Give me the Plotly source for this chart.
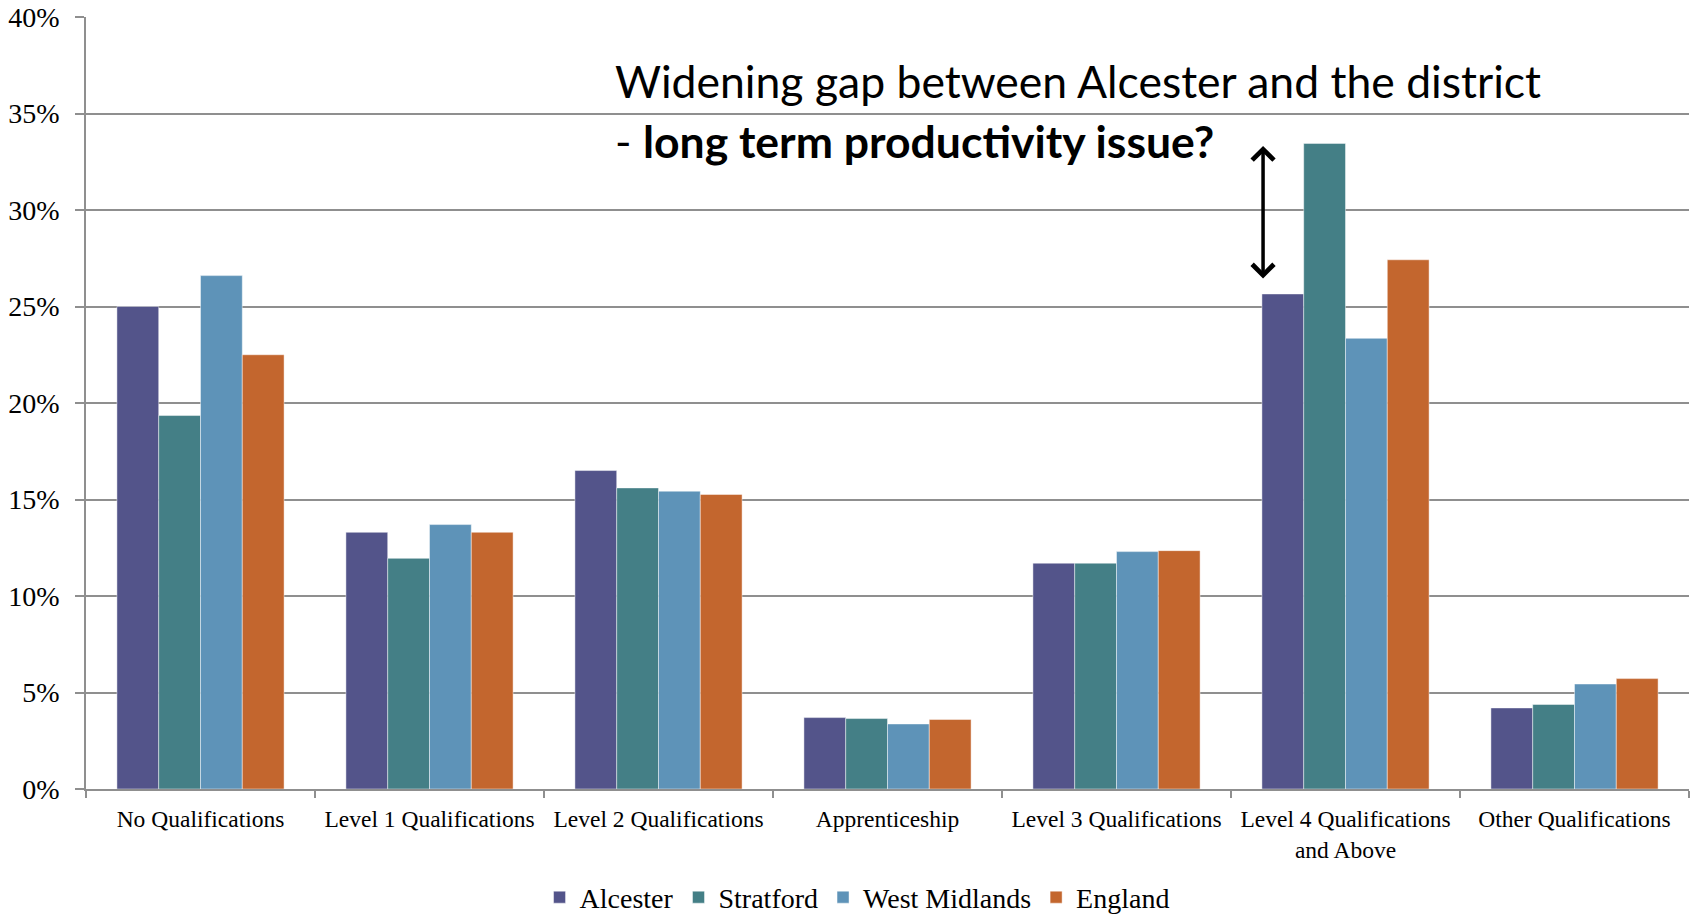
import plotly.graph_objects as go

categories = ["No Qualifications", "Level 1 Qualifications", "Level 2 Qualifications",
              "Apprenticeship", "Level 3 Qualifications",
              "Level 4 Qualifications<br>and Above", "Other Qualifications"]
alcester = [25.0, 13.3, 16.5, 3.7, 11.7, 25.65, 4.2]
stratford = [19.35, 11.95, 15.6, 3.65, 11.7, 33.45, 4.38]
west_midlands = [26.6, 13.7, 15.43, 3.37, 12.3, 23.35, 5.44]
england = [22.5, 13.3, 15.26, 3.6, 12.35, 27.42, 5.72]
y_ticks = [0, 5, 10, 15, 20, 25, 30, 35, 40]

series = [("Alcester", alcester, "#53548a"),
          ("Stratford", stratford, "#447f86"),
          ("West Midlands", west_midlands, "#5e93b8"),
          ("England", england, "#c3662e")]

fig = go.Figure()
for name, vals, col in series:
    fig.add_trace(go.Bar(name=name, x=categories, y=vals,
                         marker=dict(color=col, line=dict(color="rgba(255,255,255,0.45)", width=1))))

serif = "Liberation Serif"
grid = "#8f8f8f"
fig.update_layout(
    width=1698, height=914,
    margin=dict(l=86, r=9, t=17, b=124.5, autoexpand=False),
    paper_bgcolor="white", plot_bgcolor="white",
    barmode="group", bargap=0.27, bargroupgap=0,
    font=dict(family=serif, color="black"),
    showlegend=True,
    legend=dict(orientation="h", x=0.481, xanchor="center", y=-0.1405, yanchor="middle",
                font=dict(family=serif, size=28, color="black"), itemwidth=30,
                traceorder="normal"),
    xaxis=dict(showgrid=False, showline=True, linecolor=grid, linewidth=1.5, automargin=False,
               ticks="outside", tickson="boundaries", ticklen=7, tickcolor=grid, tickwidth=1.5,
               tickfont=dict(family=serif, size=23.5, color="black"), ticklabelstandoff=8),
    yaxis=dict(range=[0, 40], tickvals=y_ticks, ticktext=[f"{v}%" for v in y_ticks],
               showgrid=True, gridcolor=grid, gridwidth=1.5, automargin=False,
               showline=True, linecolor=grid, linewidth=1.5,
               ticks="outside", ticklen=9, tickcolor=grid, tickwidth=1.5,
               tickfont=dict(family=serif, size=28, color="black"), ticklabelstandoff=10,
               zeroline=False),
)

fig.add_annotation(xref="paper", yref="y", x=0.329, y=36.7, xanchor="left", yanchor="middle",
                   text="Widening gap between Alcester and the district", showarrow=False,
                   font=dict(family="Lato", size=44.5, color="black"))
fig.add_annotation(xref="paper", yref="y", x=0.329, y=33.6, xanchor="left", yanchor="middle",
                   text="- <b>long term productivity issue?</b>", showarrow=False,
                   font=dict(family="Lato", size=44.5, color="black"))
fig.add_annotation(xref="x", yref="y", axref="x", ayref="y", x=4.64, y=26.45, ax=4.64, ay=33.4,
                   text="", showarrow=True, arrowside="end+start", arrowhead=4, startarrowhead=4,
                   arrowwidth=3.5, arrowcolor="black", arrowsize=1.2, startarrowsize=1.2)

fig.write_html("out.html", config={"displayModeBar": False},
               post_script="document.body.style.margin='0';")
